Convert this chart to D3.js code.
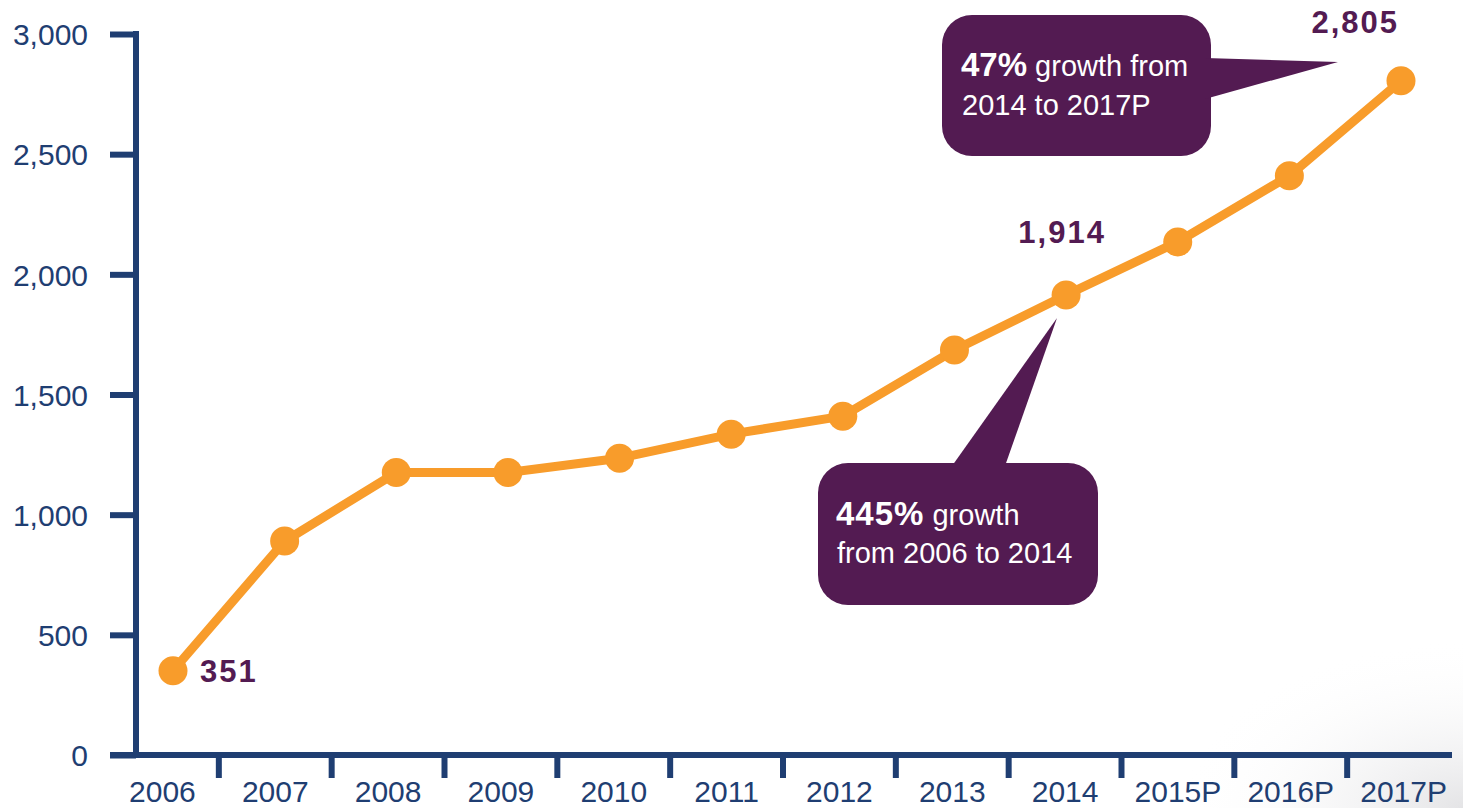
<!DOCTYPE html>
<html>
<head>
<meta charset="utf-8">
<script src="https://cdn.jsdelivr.net/npm/d3@7"></script>
<style>
  html, body { margin: 0; padding: 0; background: #fff; }
  svg { display: block; }
  text { font-family: "Liberation Sans", Arial, sans-serif; }
</style>
</head>
<body>
<svg id="chart" width="1463" height="808"></svg>
<script>
// ---- data ----
const categories = ["2006","2007","2008","2009","2010","2011","2012","2013","2014","2015P","2016P","2017P"];
const values = [351, 890, 1175, 1175, 1235, 1335, 1410, 1685, 1914, 2135, 2410, 2805];
const yTicks = [0, 500, 1000, 1500, 2000, 2500, 3000];
const labeledPoints = ["2006", "2014", "2017P"];

const NAVY = "#1f3e72", ORANGE = "#f89c2b", PURPLE = "#531b52";

const svg = d3.select("#chart");

// subtle shadow at bottom-right
const defs = svg.append("defs");
const grad = defs.append("radialGradient").attr("id", "shade")
  .attr("cx", "100%").attr("cy", "100%").attr("r", "100%");
grad.append("stop").attr("offset", "0%").attr("stop-color", "#e4e4e6").attr("stop-opacity", 1);
grad.append("stop").attr("offset", "100%").attr("stop-color", "#ffffff").attr("stop-opacity", 0);
svg.append("rect").attr("x", 1180).attr("y", 640).attr("width", 283).attr("height", 168)
  .attr("fill", "url(#shade)");

// ---- scales ----
const y = d3.scaleLinear().domain([0, 3000]).range([755, 34]);
const xBand = d3.scaleBand().domain(categories).range([106, 1460]).padding(0);
const xPt = d3.scalePoint().domain(categories).range([173, 1401]);

// ---- y axis ----
const yAxis = d3.axisLeft(y).tickValues(yTicks).tickFormat(d3.format(",")).tickSize(26).tickPadding(22);
const gy = svg.append("g").attr("transform", "translate(136,0)").call(yAxis);
gy.select(".domain").remove();
gy.selectAll(".tick line").attr("stroke", NAVY).attr("stroke-width", 6);
gy.selectAll(".tick text").attr("fill", NAVY).attr("font-size", 30).attr("dy", "0.36em");

// y axis line
svg.append("line").attr("x1", 136).attr("x2", 136).attr("y1", 31).attr("y2", 758)
  .attr("stroke", NAVY).attr("stroke-width", 6);

// ---- x axis ----
svg.append("line").attr("x1", 110).attr("x2", 1452).attr("y1", y(0)).attr("y2", y(0))
  .attr("stroke", NAVY).attr("stroke-width", 6);
svg.append("g").selectAll("line").data(categories.slice(1)).join("line")
  .attr("x1", d => xBand(d)).attr("x2", d => xBand(d))
  .attr("y1", y(0)).attr("y2", 778)
  .attr("stroke", NAVY).attr("stroke-width", 6);
svg.append("g").selectAll("text").data(categories).join("text")
  .attr("x", d => xBand(d) + xBand.bandwidth() / 2)
  .attr("y", 802)
  .attr("text-anchor", "middle")
  .attr("fill", NAVY).attr("font-size", 30)
  .text(d => d);

// ---- line ----
const line = d3.line().x((d, i) => xPt(categories[i])).y(d => y(d));
svg.append("path").datum(values).attr("d", line)
  .attr("fill", "none").attr("stroke", ORANGE).attr("stroke-width", 9).attr("stroke-linejoin", "round");
svg.append("g").selectAll("circle").data(values).join("circle")
  .attr("cx", (d, i) => xPt(categories[i])).attr("cy", d => y(d)).attr("r", 14.5)
  .attr("fill", ORANGE);

// ---- value labels ----
const fmt = d3.format(",");
const lbl = svg.append("g").attr("fill", PURPLE).attr("font-weight", "bold").attr("font-size", 31)
  .attr("letter-spacing", 2);
const idx = c => categories.indexOf(c);
lbl.append("text").attr("x", xPt("2006") + 27).attr("y", y(values[idx("2006")]) + 11)
  .text(fmt(values[idx("2006")]));
lbl.append("text").attr("x", xPt("2014") - 4).attr("y", 243).attr("text-anchor", "middle")
  .text(fmt(values[idx("2014")]));
lbl.append("text").attr("x", xPt("2017P") - 2).attr("y", 33).attr("text-anchor", "end")
  .text(fmt(values[idx("2017P")]));

// ---- callouts ----
const c1 = svg.append("g");
c1.append("rect").attr("x", 942).attr("y", 15).attr("width", 269).attr("height", 141).attr("rx", 30)
  .attr("fill", PURPLE);
c1.append("path").attr("d", "M1205,58 L1338,62 L1205,99 Z").attr("fill", PURPLE);
const t1 = c1.append("text").attr("x", 961).attr("y", 76).attr("fill", "#fff").attr("font-size", 29);
t1.append("tspan").attr("font-weight", "bold").attr("font-size", 33).text("47%");
t1.append("tspan").text(" growth from");
c1.append("text").attr("x", 962).attr("y", 115).attr("fill", "#fff").attr("font-size", 29)
  .text("2014 to 2017P");

const c2 = svg.append("g");
c2.append("rect").attr("x", 818).attr("y", 463).attr("width", 280).attr("height", 142).attr("rx", 30)
  .attr("fill", PURPLE);
c2.append("path").attr("d", "M952,466 L1057,318 L1005,466 Z").attr("fill", PURPLE);
const t2 = c2.append("text").attr("x", 836).attr("y", 525).attr("fill", "#fff").attr("font-size", 29);
t2.append("tspan").attr("font-weight", "bold").attr("font-size", 33).attr("letter-spacing", 1).text("445%");
t2.append("tspan").text(" growth");
c2.append("text").attr("x", 837).attr("y", 563).attr("fill", "#fff").attr("font-size", 29)
  .text("from 2006 to 2014");
</script>
</body>
</html>
